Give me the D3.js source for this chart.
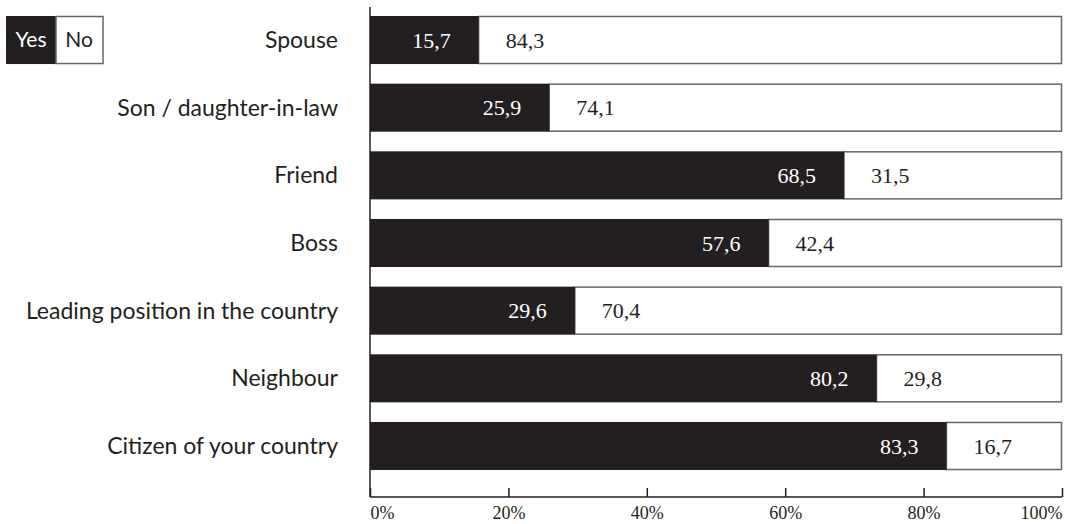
<!DOCTYPE html>
<html>
<head>
<meta charset="utf-8">
<script src="https://d3js.org/d3.v7.min.js"></script>
<style>
  body { margin: 0; background: #fff; }
  .cat { font-family: "Lato", "Open Sans", sans-serif; font-size: 23px; fill: #231f20; }
  .val { font-family: "Liberation Serif", "DejaVu Serif", serif; font-size: 22px; }
  .legend { font-family: "Lato", "Open Sans", sans-serif; font-size: 21px; }
</style>
</head>
<body>
<script>
(function(){
  // categories and values
  var categories = ["Spouse", "Son / daughter-in-law", "Friend", "Boss", "Leading position in the country", "Neighbour", "Citizen of your country"];
  // labels as printed
  var yesLabels = ["15,7", "25,9", "68,5", "57,6", "29,6", "80,2", "83,3"];
  var noLabels = ["84,3", "74,1", "31,5", "42,4", "70,4", "29,8", "16,7"];
  // bar lengths as drawn (Neighbour bar is drawn shorter than its label)
  var yesBar = [15.7, 25.9, 68.5, 57.6, 29.6, 73.2, 83.3];
  var tickValues = [0, 20, 40, 60, 80, 100];

  var width = 1068, height = 524;
  var dark = "#231f20", border = "#666";

  var svg = d3.select("body").append("svg")
    .attr("width", width)
    .attr("height", height);

  var x = d3.scaleLinear().domain([0, 100]).range([370, 1062]);
  var y = d3.scaleBand().domain(categories).range([16, 470]).paddingInner(0.29).paddingOuter(0);

  // no (white) bars
  svg.selectAll(".noBar")
    .data(categories)
    .enter().append("rect")
    .attr("class", "noBar")
    .attr("x", function(d, i){ return x(yesBar[i]); })
    .attr("y", function(d){ return y(d) + 0.5; })
    .attr("width", function(d, i){ return x(100) - x(yesBar[i]) - 0.5; })
    .attr("height", y.bandwidth() - 1)
    .attr("fill", "#fff")
    .attr("stroke", border)
    .attr("stroke-width", 1.5);

  // yes (black) bars
  svg.selectAll(".yesBar")
    .data(categories)
    .enter().append("rect")
    .attr("class", "yesBar")
    .attr("x", x(0))
    .attr("y", function(d){ return y(d); })
    .attr("width", function(d, i){ return x(yesBar[i]) - x(0); })
    .attr("height", y.bandwidth())
    .attr("fill", dark);

  // value labels
  svg.selectAll(".yesVal")
    .data(categories)
    .enter().append("text")
    .attr("class", "val")
    .attr("x", function(d, i){ return x(yesBar[i]) - 28; })
    .attr("y", function(d){ return y(d) + y.bandwidth() / 2; })
    .attr("dy", "0.35em")
    .attr("text-anchor", "end")
    .attr("fill", "#fff")
    .text(function(d, i){ return yesLabels[i]; });

  svg.selectAll(".noVal")
    .data(categories)
    .enter().append("text")
    .attr("class", "val")
    .attr("x", function(d, i){ return x(yesBar[i]) + 27; })
    .attr("y", function(d){ return y(d) + y.bandwidth() / 2; })
    .attr("dy", "0.35em")
    .attr("fill", dark)
    .text(function(d, i){ return noLabels[i]; });

  // category labels
  svg.selectAll(".cat")
    .data(categories)
    .enter().append("text")
    .attr("class", "cat")
    .attr("x", 338)
    .attr("y", function(d){ return y(d) + y.bandwidth() / 2; })
    .attr("dy", "0.35em")
    .attr("text-anchor", "end")
    .text(function(d){ return d; });

  // axis
  var axis = svg.append("g")
    .attr("transform", "translate(0,497)")
    .call(d3.axisBottom(x).tickValues(tickValues).tickSize(-9).tickPadding(9)
      .tickFormat(function(d){ return d + "%"; }));
  axis.select(".domain").attr("stroke", dark).attr("stroke-width", 1.5)
    .attr("d", "M" + x(0) + ",0H" + x(100));
  axis.selectAll(".tick line").attr("stroke", dark).attr("stroke-width", 1.5);
  axis.selectAll(".tick text")
    .attr("font-family", "'Liberation Serif', 'DejaVu Serif', serif")
    .attr("font-size", 18)
    .attr("fill", dark)
    .attr("text-anchor", function(d){ return d === 0 ? "start" : (d === 100 ? "end" : "middle"); });

  // vertical axis line
  svg.append("line")
    .attr("x1", x(0)).attr("x2", x(0))
    .attr("y1", 7).attr("y2", 497)
    .attr("stroke", dark).attr("stroke-width", 1.5);

  // legend
  var ly = y(categories[0]);
  svg.append("rect").attr("x", 6).attr("y", ly).attr("width", 50).attr("height", y.bandwidth()).attr("fill", dark);
  svg.append("rect").attr("x", 56).attr("y", ly + 0.5).attr("width", 47).attr("height", y.bandwidth() - 1)
    .attr("fill", "#fff").attr("stroke", border).attr("stroke-width", 1.5);
  svg.append("text").attr("class", "legend").attr("x", 31).attr("y", ly + y.bandwidth() / 2).attr("dy", "0.35em")
    .attr("text-anchor", "middle").attr("fill", "#fff").text("Yes");
  svg.append("text").attr("class", "legend").attr("x", 79).attr("y", ly + y.bandwidth() / 2).attr("dy", "0.35em")
    .attr("text-anchor", "middle").attr("fill", dark).text("No");
})();
</script>
</body>
</html>
